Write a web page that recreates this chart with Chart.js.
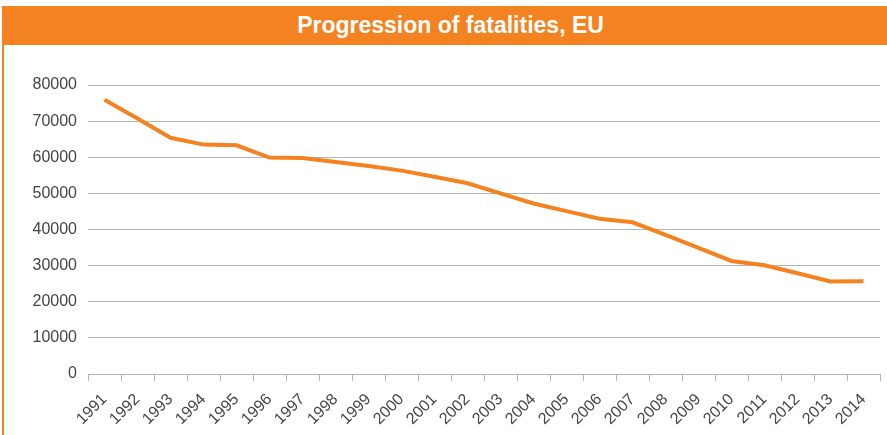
<!DOCTYPE html>
<html>
<head>
<meta charset="utf-8">
<script src="https://cdn.jsdelivr.net/npm/chart.js@4"></script>
<style>
  body { margin: 0; background: #fff; }
  #wrap { position: absolute; left: 0; top: 0; width: 887px; height: 435px; }
  #bar {
    position: absolute; left: 2px; top: 6px; width: 885px; height: 39px;
    background: #F58220; color: #fff;
    font: bold 23px "Liberation Sans", Arial, sans-serif;
    line-height: 39px; text-align: center; padding-left: 12px; box-sizing: border-box;
  }
  #edge { position: absolute; left: 2px; top: 6px; width: 2px; height: 429px; background: #F58220; }
  #box { position: absolute; left: 0; top: 45px; width: 887px; height: 390px; }
</style>
</head>
<body>
<div id="wrap">
  <div id="bar">Progression of fatalities, EU</div>
  <div id="edge"></div>
  <div id="box"><canvas id="fatalChart"></canvas></div>
</div>
<script>
const years = ["1991", "1992", "1993", "1994", "1995", "1996", "1997", "1998",
  "1999", "2000", "2001", "2002", "2003", "2004", "2005", "2006", "2007",
  "2008", "2009", "2010", "2011", "2012", "2013", "2014"];

const fatalities = [75900, 70700, 65400, 63500, 63300, 59900, 59800, 58700,
  57600, 56300, 54600, 52800, 50000, 47200, 45100, 43000, 42000, 38500,
  34900, 31300, 30100, 27900, 25600, 25700];

const orange = "#F58220";

function drawChart() {
  const ctx = document.getElementById("fatalChart").getContext("2d");

  const config = {
    type: "line",
    data: {
      labels: years,
      datasets: [
        {
          label: "Fatalities",
          data: fatalities,
          borderColor: orange,
          backgroundColor: orange,
          borderWidth: 4,
          pointRadius: 0,
          tension: 0,
        },
      ],
    },
    options: {
      responsive: true,
      maintainAspectRatio: false,
      animation: false,
      layout: {
        padding: { left: 0, right: 7, top: 40, bottom: 0 },
      },
      plugins: {
        legend: { display: false },
        tooltip: { enabled: false },
      },
      scales: {
        x: {
          offset: true,
          grid: {
            offset: true,
            drawOnChartArea: false,
            drawTicks: true,
            tickLength: 7,
            color: "#b4b4b4",
          },
          border: { display: true, color: "#b4b4b4" },
          ticks: {
            minRotation: 45,
            maxRotation: 45,
            padding: 9,
            color: "#444",
            font: { family: "Liberation Sans", size: 16 },
          },
          afterFit: function (scale) {
            scale.height = 61;
          },
        },
        y: {
          min: 0,
          max: 80000,
          ticks: {
            stepSize: 10000,
            padding: 11,
            color: "#444",
            font: { family: "Liberation Sans", size: 16 },
            callback: function (value) {
              return String(value);
            },
          },
          grid: {
            drawTicks: false,
            color: "#b4b4b4",
          },
          border: { display: false },
          afterFit: function (scale) {
            scale.width = 88;
          },
        },
      },
    },
  };

  new Chart(ctx, config);
}

document.addEventListener("DOMContentLoaded", drawChart);
</script>
</body>
</html>
